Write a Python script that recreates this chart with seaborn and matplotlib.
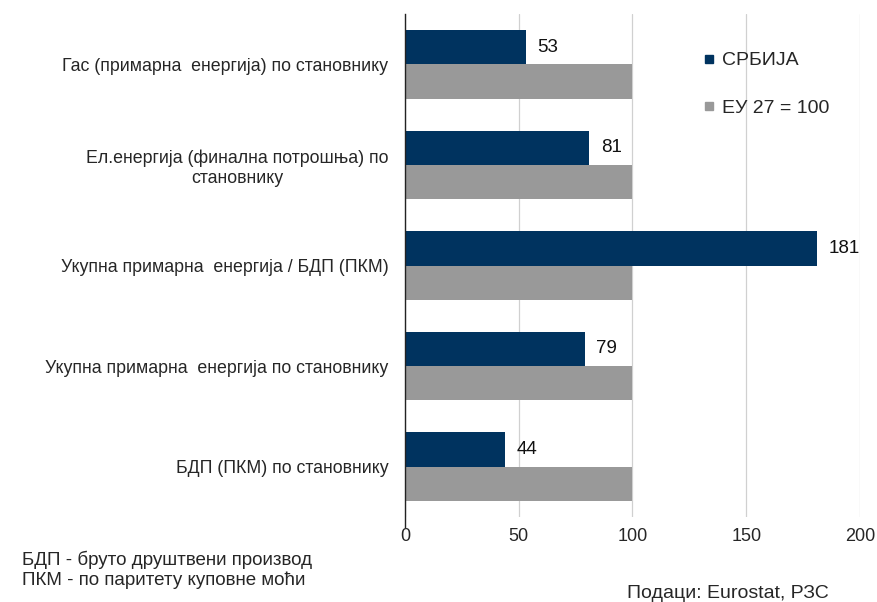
import matplotlib
matplotlib.use("Agg")
import matplotlib.pyplot as plt
import pandas as pd
import seaborn as sns
from matplotlib.lines import Line2D

categories = [
    "Гас (примарна  енергија) по становнику",
    "Ел.енергија (финална потрошња) по\nстановнику",
    "Укупна примарна  енергија / БДП (ПКМ)",
    "Укупна примарна  енергија по становнику",
    "БДП (ПКМ) по становнику",
]
serbia = [53, 81, 181, 79, 44]
eu27 = [100, 100, 100, 100, 100]
series_names = ["СРБИЈА", "ЕУ 27 = 100"]
colors = ["#00335F", "#999999"]
x_ticks = [0, 50, 100, 150, 200]

df = pd.DataFrame({
    "category": categories * 2,
    "value": serbia + eu27,
    "series": [series_names[0]] * len(categories) + [series_names[1]] * len(categories),
})

sns.set_style("white")
plt.rcParams["font.family"] = ["Liberation Sans", "DejaVu Sans"]

fig = plt.figure(figsize=(8.78, 6.02), dpi=100)
ax = fig.add_axes([405 / 878, 1 - 517 / 602, 455 / 878, 503 / 602])

sns.barplot(
    data=df, x="value", y="category", hue="series", orient="h",
    order=categories, hue_order=series_names, palette=colors,
    width=0.68, saturation=1, linewidth=0, legend=False, ax=ax,
)

ax.set_xlim(0, 200)
ax.set_xticks(x_ticks)
ax.set_xticklabels([str(t) for t in x_ticks], fontsize=13)
ax.tick_params(axis="x", length=0, pad=8)
ax.tick_params(axis="y", length=0, pad=12)
for lbl in ax.get_yticklabels():
    lbl.set_fontsize(12.8)
    lbl.set_multialignment("center")
ax.set_xlabel("")
ax.set_ylabel("")
ax.set_axisbelow(True)
ax.grid(axis="x", color="#d0d0d0", linewidth=0.9)
ax.grid(axis="y", visible=False)
for side in ["top", "right", "bottom"]:
    ax.spines[side].set_visible(False)
ax.spines["left"].set_color("#222222")
ax.spines["left"].set_linewidth(1.0)
ax.spines["left"].set_bounds(ax.get_ylim()[0] + 0.1, ax.get_ylim()[1])

# value labels on the Serbia bars
for patch, val in zip(ax.patches[:len(categories)], serbia):
    y = patch.get_y() + patch.get_height() / 2
    ax.text(val + 5, y, f"{val}", va="center", ha="left", fontsize=13.5, color="#111111")

handles = [
    Line2D([], [], marker="s", linestyle="", markersize=6, color=c) for c in colors
]
fig.legend(
    handles, series_names, loc="upper left", bbox_to_anchor=(695 / 878, 1 - 44 / 602),
    frameon=False, fontsize=14, labelspacing=1.55, handlelength=0.6,
    handletextpad=0.4, borderaxespad=0,
)

fig.text(22 / 878, 1 - 560 / 602, "БДП - бруто друштвени производ", fontsize=13.5, va="center")
fig.text(22 / 878, 1 - 580 / 602, "ПКМ - по паритету куповне моћи", fontsize=13.5, va="center")
fig.text(627 / 878, 1 - 594 / 602, "Подаци: Eurostat, РЗС", fontsize=14, va="center")

fig.savefig("out.png", dpi=100)
